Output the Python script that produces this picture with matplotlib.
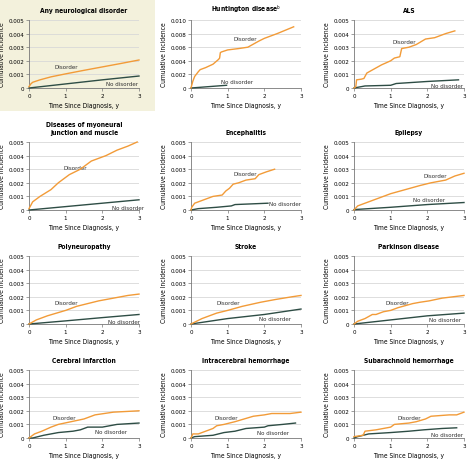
import matplotlib
matplotlib.use("Agg")
import matplotlib.pyplot as plt
from matplotlib.patches import Rectangle
from matplotlib.ticker import FuncFormatter

plt.rcParams['font.family'] = ['DejaVu Sans']
plt.rcParams['font.stretch'] = 'condensed'

ORANGE = "#f29b38"
DARK = "#2e4d45"

titles = [
    "Any neurological disorder", "Huntington disease$^{\\mathrm{b}}$", "ALS",
    "Diseases of myoneural\njunction and muscle", "Encephalitis", "Epilepsy",
    "Polyneuropathy", "Stroke", "Parkinson disease",
    "Cerebral infarction", "Intracerebral hemorrhage", "Subarachnoid hemorrhage",
]
y_max = [0.005, 0.010, 0.005, 0.005, 0.005, 0.005,
         0.005, 0.005, 0.005, 0.005, 0.005, 0.005]

# each series: (x in years, cumulative incidence)
any_dis = [(0, 0.0001), (0.05, 0.0003), (0.1, 0.00042), (0.3, 0.0006), (0.6, 0.00082),
           (1.0, 0.00104), (1.5, 0.0013), (2.0, 0.00155), (2.5, 0.0018), (3.0, 0.00206)]
any_no = [(0, 0), (1.0, 0.0003), (2.0, 0.0006), (3.0, 0.00088)]

hunt_dis = [(0, 0), (0.05, 0.001), (0.1, 0.0017), (0.2, 0.0024), (0.25, 0.0027),
            (0.4, 0.003), (0.6, 0.0035), (0.75, 0.0042), (0.78, 0.0044), (0.8, 0.0052),
            (0.83, 0.0053), (1.0, 0.0056), (1.3, 0.0058), (1.55, 0.006), (1.65, 0.0063),
            (1.85, 0.0069), (2.0, 0.0073), (2.35, 0.008), (2.8, 0.009)]
hunt_no = [(0, 0), (0.97, 0.0004)]

als_dis = [(0, 0), (0.05, 0.0001), (0.07, 0.0006), (0.2, 0.00065), (0.27, 0.0007),
           (0.35, 0.0011), (0.55, 0.0014), (0.75, 0.0017), (1.0, 0.002), (1.1, 0.0022),
           (1.25, 0.0023), (1.3, 0.0029), (1.5, 0.003), (1.7, 0.0032), (1.95, 0.0036),
           (2.2, 0.0037), (2.5, 0.004), (2.75, 0.0042)]
als_no = [(0, 0), (0.3, 0.00015), (1.0, 0.0002), (1.15, 0.00033), (2.0, 0.00048), (2.85, 0.0006)]

myo_dis = [(0, 0.0001), (0.1, 0.0006), (0.3, 0.001), (0.6, 0.0015), (0.8, 0.002),
           (1.1, 0.0026), (1.4, 0.003), (1.7, 0.0036), (2.1, 0.004), (2.4, 0.0044),
           (2.7, 0.0047), (2.95, 0.005)]
myo_no = [(0, 0), (1.0, 0.00025), (2.0, 0.0005), (3.0, 0.00075)]

ence_dis = [(0, 0), (0.02, 0.0002), (0.1, 0.0005), (0.2, 0.0006), (0.4, 0.0008),
            (0.6, 0.001), (0.85, 0.0011), (0.95, 0.0014), (1.05, 0.0016), (1.15, 0.0019),
            (1.3, 0.002), (1.5, 0.0022), (1.75, 0.0023), (1.85, 0.0026), (2.05, 0.0028),
            (2.28, 0.003)]
ence_no = [(0, 0), (0.2, 0.0001), (0.7, 0.0002), (1.1, 0.0003), (1.2, 0.0004), (2.1, 0.0005)]

epi_dis = [(0, 0), (0.1, 0.0003), (0.4, 0.0006), (0.7, 0.0009), (1.0, 0.0012),
           (1.4, 0.0015), (1.8, 0.0018), (2.1, 0.002), (2.5, 0.0022), (2.75, 0.0025),
           (3.0, 0.0027)]
epi_no = [(0, 0.00003), (1.0, 0.0002), (2.0, 0.0004), (3.0, 0.00055)]

poly_dis = [(0, 0), (0.2, 0.0003), (0.5, 0.0006), (0.75, 0.0008), (1.0, 0.001),
            (1.3, 0.0013), (1.6, 0.0015), (1.9, 0.0017), (2.3, 0.0019), (2.7, 0.0021),
            (3.0, 0.0022)]
poly_no = [(0, 0), (1.0, 0.00023), (2.0, 0.00047), (3.0, 0.0007)]

stroke_dis = [(0, 0), (0.3, 0.0004), (0.7, 0.0008), (1.0, 0.001), (1.4, 0.0013),
              (1.9, 0.0016), (2.3, 0.0018), (2.75, 0.002), (3.0, 0.0021)]
stroke_no = [(0, 0), (1.0, 0.0004), (2.0, 0.0007), (3.0, 0.0011)]

park_dis = [(0, 0), (0.1, 0.0002), (0.3, 0.0004), (0.5, 0.0007), (0.6, 0.0007),
            (0.8, 0.0009), (1.0, 0.001), (1.2, 0.0012), (1.6, 0.0015), (1.8, 0.0016),
            (2.05, 0.0017), (2.4, 0.0019), (2.7, 0.002), (3.0, 0.0021)]
park_no = [(0, 0), (1.0, 0.0003), (2.0, 0.0006), (3.0, 0.0008)]

cinf_dis = [(0, 0), (0.15, 0.0003), (0.35, 0.0005), (0.6, 0.0008), (0.8, 0.001),
            (1.15, 0.0012), (1.5, 0.0014), (1.8, 0.0017), (2.3, 0.0019), (3.0, 0.002)]
cinf_no = [(0, 0), (0.1, 0.0), (0.4, 0.0002), (0.8, 0.0004), (1.2, 0.0005), (1.4, 0.0006),
           (1.6, 0.0008), (2.0, 0.0008), (2.4, 0.001), (3.0, 0.0011)]

ich_dis = [(0, 0), (0.05, 0.0003), (0.2, 0.0003), (0.4, 0.0005), (0.6, 0.0007),
           (0.7, 0.0009), (0.9, 0.001), (1.2, 0.0012), (1.45, 0.0014), (1.7, 0.0016),
           (2.0, 0.0017), (2.2, 0.0018), (2.7, 0.0018), (3.0, 0.0019)]
ich_no = [(0, 0), (0.1, 0.0001), (0.6, 0.0002), (0.9, 0.0004), (1.2, 0.0005),
          (1.5, 0.0007), (2.0, 0.0008), (2.1, 0.0009), (2.5, 0.001), (2.85, 0.0011)]

sah_dis = [(0, 0.0001), (0.25, 0.0002), (0.3, 0.0005), (0.6, 0.0006), (1.0, 0.0008),
           (1.1, 0.001), (1.5, 0.0011), (1.7, 0.0012), (1.95, 0.0014), (2.1, 0.0016),
           (2.6, 0.0017), (2.8, 0.0017), (3.0, 0.0019)]
sah_no = [(0, 0), (0.1, 0.0001), (0.4, 0.0003), (1.0, 0.0004), (1.5, 0.0005),
          (1.9, 0.0006), (2.4, 0.0007), (2.8, 0.00075)]

disorder_series = [any_dis, hunt_dis, als_dis, myo_dis, ence_dis, epi_dis,
                   poly_dis, stroke_dis, park_dis, cinf_dis, ich_dis, sah_dis]
no_series = [any_no, hunt_no, als_no, myo_no, ence_no, epi_no,
             poly_no, stroke_no, park_no, cinf_no, ich_no, sah_no]

# label positions (x, y) for "Disorder" and "No disorder"
dis_label = [(1.03, 0.00158), (1.49, 0.00725), (1.38, 0.0034), (1.25, 0.0031),
             (1.48, 0.00266), (2.21, 0.0025), (1.03, 0.00158), (1.03, 0.00158),
             (1.17, 0.0016), (0.96, 0.00153), (0.96, 0.00148), (1.51, 0.00153)]
no_label = [(2.53, 0.00036), (1.26, 0.001), (2.55, 0.00015), (2.7, 0.00017),
            (2.57, 0.0005), (2.05, 0.00076), (2.6, 0.0002), (2.28, 0.00038),
            (2.48, 0.00032), (2.25, 0.00049), (2.25, 0.00044), (2.55, 0.00027)]

fig = plt.figure(figsize=(4.67, 4.64), dpi=100)

# highlighted background behind first panel
fig.patches.append(Rectangle((0, 1 - 112 / 464), 155 / 467, 112 / 464,
                             transform=fig.transFigure, facecolor="#f3f1dc",
                             edgecolor="none", zorder=-10))

col_left = [29 / 467, 191 / 467, 354 / 467]
row_bottom = [1 - 89 / 464, 1 - 211 / 464, 1 - 325 / 464, 1 - 439 / 464]
w = 110 / 467
h = 68 / 464

fmt = FuncFormatter(lambda v, p: "0" if v == 0 else f"{v:.3f}")

for i, title in enumerate(titles):
    r, c = divmod(i, 3)
    ax = fig.add_axes([col_left[c], row_bottom[r], w, h])
    ax.set_facecolor("none")

    dx = [p[0] for p in disorder_series[i]]
    dy = [p[1] for p in disorder_series[i]]
    nx = [p[0] for p in no_series[i]]
    ny = [p[1] for p in no_series[i]]
    ax.plot(nx, ny, color=DARK, lw=1.0, zorder=3, clip_on=False)
    ax.plot(dx, dy, color=ORANGE, lw=1.0, zorder=4, clip_on=False)

    ax.text(*dis_label[i], "Disorder", fontsize=4.5, ha="center", va="center", color="#333333")
    ax.text(*no_label[i], "No disorder", fontsize=4.5, ha="center", va="center",
            color="#333333")

    ym = y_max[i]
    ax.set_xlim(0, 3)
    ax.set_ylim(0, ym)
    ax.set_xticks([0, 1, 2, 3])
    ax.set_yticks([ym * k / 5 for k in range(6)])
    ax.yaxis.set_major_formatter(fmt)
    ax.grid(axis="y", color="#d8d8d8", lw=0.6)
    ax.set_axisbelow(True)
    for s in ["top", "right"]:
        ax.spines[s].set_visible(False)
    for s in ["left", "bottom"]:
        ax.spines[s].set_color("#777777")
        ax.spines[s].set_linewidth(0.6)
    ax.tick_params(labelsize=4.5, length=2, width=0.5, color="#777777", pad=1.5)

    ax.set_title(title, fontsize=4.8, fontweight="bold", pad=6, linespacing=1.3)
    ax.set_xlabel("Time Since Diagnosis, y", fontsize=4.8, labelpad=3)
    ax.set_ylabel("Cumulative Incidence", fontsize=4.8, labelpad=2)

fig.savefig("out.png", dpi=100)
